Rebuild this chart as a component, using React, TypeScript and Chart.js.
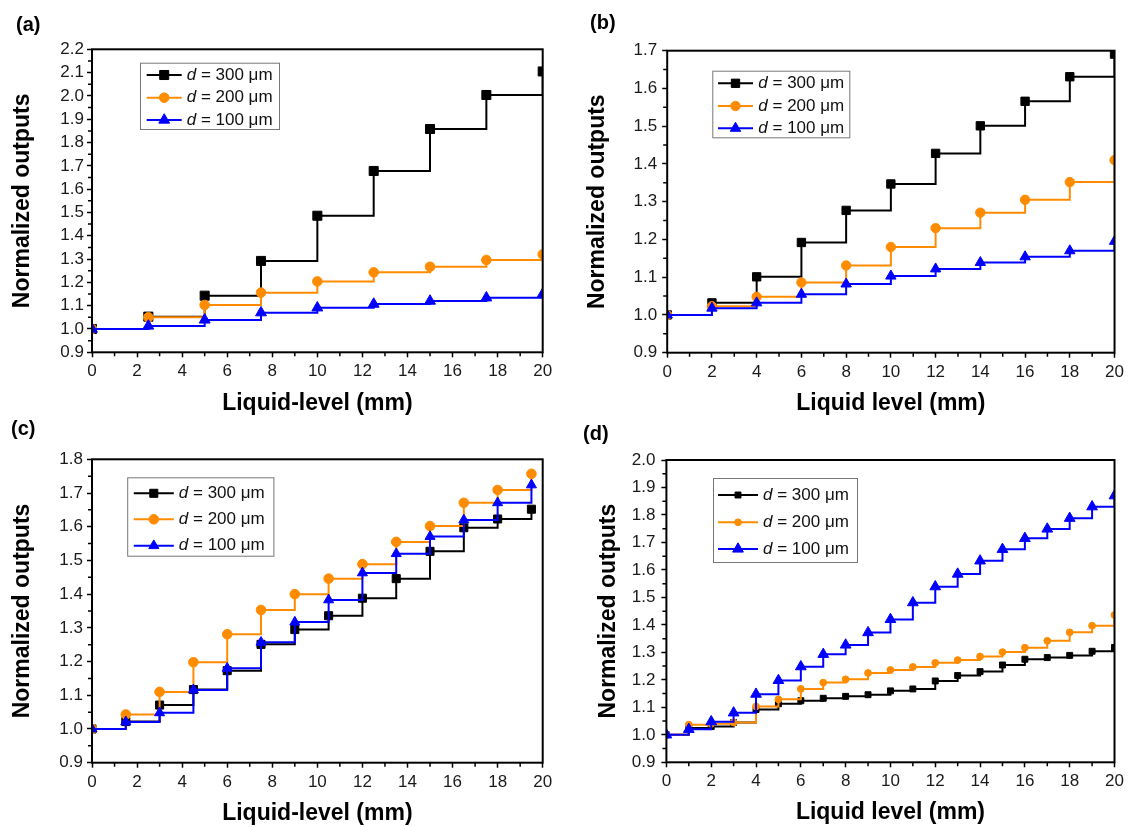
import React, { useEffect, useRef } from 'react';
import { Chart, registerables } from 'chart.js';

Chart.register(...registerables);

const FONT = '"Liberation Sans", Arial, Helvetica, sans-serif';
const C300 = '#000000';
const C200 = '#ff8c00';
const C100 = '#0000ff';
const legendSizes = ['300', '200', '100'];

// ---- Panel (a) ----
const xA = [0, 2.5, 5, 7.5, 10, 12.5, 15, 17.5, 20];
const a300 = [1.0, 1.053, 1.143, 1.292, 1.486, 1.678, 1.858, 2.004, 2.105];
const a200 = [1.0, 1.05, 1.103, 1.156, 1.204, 1.243, 1.267, 1.296, 1.32];
const a100 = [1.0, 1.013, 1.039, 1.07, 1.091, 1.107, 1.12, 1.134, 1.15];

// ---- Panel (b) ----
const xB = [0, 2, 4, 6, 8, 10, 12, 14, 16, 18, 20];
const b300 = [1.0, 1.032, 1.101, 1.192, 1.277, 1.347, 1.428, 1.501, 1.566, 1.631, 1.691];
const b200 = [1.0, 1.023, 1.048, 1.086, 1.131, 1.18, 1.23, 1.271, 1.305, 1.352, 1.41];
const b100 = [1.0, 1.018, 1.032, 1.055, 1.082, 1.103, 1.122, 1.139, 1.154, 1.17, 1.195];

// ---- Panel (c) ----
const xC = [0, 1.5, 3, 4.5, 6, 7.5, 9, 10.5, 12, 13.5, 15, 16.5, 18, 19.5];
const c300 = [1.0, 1.022, 1.071, 1.117, 1.173, 1.251, 1.295, 1.336, 1.388, 1.446, 1.527, 1.597, 1.623, 1.652];
const c200 = [1.0, 1.043, 1.11, 1.198, 1.281, 1.353, 1.4, 1.446, 1.489, 1.555, 1.602, 1.671, 1.709, 1.757];
const c100 = [1.0, 1.021, 1.048, 1.116, 1.18, 1.257, 1.317, 1.383, 1.463, 1.52, 1.571, 1.62, 1.671, 1.724];

// ---- Panel (d) ----
const xD = [0, 1, 2, 3, 4, 5, 6, 7, 8, 9, 10, 11, 12, 13, 14, 15, 16, 17, 18, 19, 20];
const d300 = [1.0, 1.025, 1.03, 1.045, 1.092, 1.113, 1.124, 1.133, 1.14, 1.146, 1.16, 1.167, 1.196, 1.216, 1.23, 1.254, 1.275, 1.281, 1.289, 1.304, 1.318];
const d200 = [1.0, 1.037, 1.04, 1.045, 1.103, 1.129, 1.167, 1.19, 1.202, 1.225, 1.236, 1.247, 1.262, 1.272, 1.285, 1.301, 1.317, 1.342, 1.373, 1.397, 1.436];
const d100 = [1.0, 1.02, 1.048, 1.08, 1.148, 1.198, 1.248, 1.293, 1.327, 1.372, 1.42, 1.481, 1.539, 1.585, 1.633, 1.675, 1.715, 1.749, 1.788, 1.83, 1.87];

type Cfg = {
  tag: string;
  xs: number[];
  ys: number[][];
  yMin: number;
  yMax: number;
  yPad: number;
  xTitle: string;
  canvas: { left: number; top: number; w: number; h: number };
  area: { l: number; t: number; r: number; b: number };
  yTitleX: number;
  xTitleY: number;
  tagPos: { x: number; y: number };
  legend: { l: number; t: number; r: number; b: number; rows: number[]; lineL: number; lineR: number; textX: number };
  radii: number[]; // square, circle, triangle
};

const panels: Cfg[] = [
  {
    tag: '(a)', xs: xA, ys: [a300, a200, a100], yMin: 0.9, yMax: 2.2, yPad: 3,
    xTitle: 'Liquid-level (mm)',
    canvas: { left: 0, top: 0, w: 564, h: 420 },
    area: { l: 92, t: 49.3, r: 542.7, b: 352.3 },
    yTitleX: 23, xTitleY: 403.5,
    tagPos: { x: 16, y: 25 },
    legend: { l: 140, t: 62.7, r: 279, b: 129, rows: [75, 97.7, 120], lineL: 146.7, lineR: 181.7, textX: 186.7 },
    radii: [6.4, 4.8, 6.3],
  },
  {
    tag: '(b)', xs: xB, ys: [b300, b200, b100], yMin: 0.9, yMax: 1.7, yPad: 5,
    xTitle: 'Liquid level (mm)',
    canvas: { left: 564, top: 0, w: 564, h: 420 },
    area: { l: 667.2, t: 50.7, r: 1115.6, b: 352.7 },
    yTitleX: 598, xTitleY: 404,
    tagPos: { x: 590, y: 23 },
    legend: { l: 712.3, t: 70.7, r: 849.3, b: 137.3, rows: [83.3, 106, 128.3], lineL: 718, lineR: 753, textX: 758.3 },
    radii: [5.9, 4.7, 6],
  },
  {
    tag: '(c)', xs: xC, ys: [c300, c200, c100], yMin: 0.9, yMax: 1.8, yPad: 4,
    xTitle: 'Liquid-level (mm)',
    canvas: { left: 0, top: 415, w: 564, h: 412 },
    area: { l: 92, t: 459.3, r: 542.7, b: 762.7 },
    yTitleX: 23, xTitleY: 813.5,
    tagPos: { x: 11, y: 429 },
    legend: { l: 127.2, t: 477.3, r: 273.4, b: 555.7, rows: [493.3, 519.3, 545.7], lineL: 133.8, lineR: 173.8, textX: 178.8 },
    radii: [5.7, 4.8, 5.8],
  },
  {
    tag: '(d)', xs: xD, ys: [d300, d200, d100], yMin: 0.9, yMax: 2.0, yPad: 6,
    xTitle: 'Liquid level (mm)',
    canvas: { left: 564, top: 415, w: 564, h: 412 },
    area: { l: 666.4, t: 460, r: 1114.5, b: 762.3 },
    yTitleX: 609, xTitleY: 813,
    tagPos: { x: 583, y: 434 },
    legend: { l: 713, t: 478, r: 857, b: 562, rows: [495, 522.3, 549], lineL: 718, lineR: 758, textX: 763 },
    radii: [4.2, 3.4, 6.2],
  },
];

const COLORS = [C300, C200, C100];
const STYLES = ['rect', 'circle', 'triangle'];

function drawMarker(ctx: CanvasRenderingContext2D, style: string, x: number, y: number, r: number, color: string) {
  ctx.fillStyle = color;
  ctx.strokeStyle = color;
  ctx.lineWidth = 1;
  ctx.beginPath();
  if (style === 'rect') {
    const s = Math.SQRT1_2 * r;
    ctx.rect(x - s, y - s, 2 * s, 2 * s);
  } else if (style === 'circle') {
    ctx.arc(x, y, r, 0, Math.PI * 2);
  } else {
    ctx.moveTo(x, y - r);
    ctx.lineTo(x + 0.866 * r, y + 0.5 * r);
    ctx.lineTo(x - 0.866 * r, y + 0.5 * r);
    ctx.closePath();
  }
  ctx.fill();
  ctx.stroke();
}

function makeDecor(p: Cfg) {
  const ox = p.canvas.left;
  const oy = p.canvas.top;
  return {
    id: 'decor_' + p.tag,
    afterDatasetsDraw(chart: any) {
      const { ctx, chartArea: a, scales } = chart;
      ctx.save();
      // frame
      ctx.strokeStyle = '#000';
      ctx.lineWidth = 2;
      ctx.strokeRect(a.left, a.top, a.right - a.left, a.bottom - a.top);
      // minor ticks between majors
      ctx.lineWidth = 1.5;
      ctx.beginPath();
      const xs = scales.x;
      for (let i = 0; i < xs.ticks.length - 1; i++) {
        const px = xs.getPixelForValue((xs.ticks[i].value + xs.ticks[i + 1].value) / 2);
        ctx.moveTo(px, a.bottom);
        ctx.lineTo(px, a.bottom + 4);
      }
      const ys = scales.y;
      for (let i = 0; i < ys.ticks.length - 1; i++) {
        const py = ys.getPixelForValue((ys.ticks[i].value + ys.ticks[i + 1].value) / 2);
        ctx.moveTo(a.left, py);
        ctx.lineTo(a.left - 4, py);
      }
      ctx.stroke();

      // legend box
      const L = p.legend;
      ctx.fillStyle = '#ffffff';
      ctx.fillRect(L.l - ox, L.t - oy, L.r - L.l, L.b - L.t);
      ctx.strokeStyle = '#777';
      ctx.lineWidth = 1;
      ctx.strokeRect(L.l - ox + 0.5, L.t - oy + 0.5, L.r - L.l, L.b - L.t);
      for (let k = 0; k < 3; k++) {
        const y = L.rows[k] - oy;
        ctx.strokeStyle = COLORS[k];
        ctx.lineWidth = 2;
        ctx.beginPath();
        ctx.moveTo(L.lineL - ox, y);
        ctx.lineTo(L.lineR - ox, y);
        ctx.stroke();
        drawMarker(ctx, STYLES[k], (L.lineL + L.lineR) / 2 - ox, y, p.radii[k], COLORS[k]);
        ctx.fillStyle = '#111';
        ctx.textBaseline = 'middle';
        ctx.textAlign = 'left';
        ctx.font = `italic 17px ${FONT}`;
        const tx = L.textX - ox;
        ctx.fillText('d', tx, y);
        const w = ctx.measureText('d').width;
        ctx.font = `17px ${FONT}`;
        ctx.fillText(` = ${legendSizes[k]} μm`, tx + w, y);
      }

      // panel tag
      ctx.fillStyle = '#000';
      ctx.font = `bold 20px ${FONT}`;
      ctx.textBaseline = 'middle';
      ctx.textAlign = 'left';
      ctx.fillText(p.tag, p.tagPos.x - ox, p.tagPos.y - oy);
      ctx.restore();
    },
  };
}

function buildConfig(p: Cfg): any {
  const cl = p.canvas.left;
  const ct = p.canvas.top;
  const TITLE_SIZE = 23;
  const lh = TITLE_SIZE * 1.2;
  const yWidth = p.area.l - cl;
  const xHeight = ct + p.canvas.h - p.area.b;
  const yTitlePad = Math.max(0, p.yTitleX - cl - lh / 2);
  const xTitlePad = Math.max(0, ct + p.canvas.h - p.xTitleY - lh / 2);

  const datasets = p.ys.map((vals, k) => ({
    label: `d = ${legendSizes[k]} μm`,
    data: p.xs.map((x, i) => ({ x, y: vals[i] })),
    borderColor: COLORS[k],
    backgroundColor: COLORS[k],
    borderWidth: 2,
    stepped: 'before',
    pointStyle: STYLES[k],
    pointRadius: p.radii[k],
    pointBackgroundColor: COLORS[k],
    pointBorderColor: COLORS[k],
    pointBorderWidth: 1,
    fill: false,
    order: 3 - k,
  }));

  return {
    type: 'line',
    data: { datasets },
    options: {
      responsive: false,
      animation: false,
      devicePixelRatio: 1,
      layout: {
        padding: { left: 0, top: p.area.t - ct, right: p.canvas.w - (p.area.r - cl), bottom: 0 },
      },
      plugins: {
        legend: { display: false },
        tooltip: { enabled: false },
      },
      scales: {
        x: {
          type: 'linear',
          min: 0,
          max: 20,
          ticks: {
            stepSize: 2,
            autoSkip: false,
            maxRotation: 0,
            padding: 4,
            color: '#1a1a1a',
            font: { family: FONT, size: 17 },
            callback: (v: any) => String(v),
          },
          grid: { display: true, drawOnChartArea: false, drawTicks: true, tickLength: 5, tickColor: '#000', tickWidth: 1.5 },
          border: { display: false },
          title: {
            display: true,
            text: p.xTitle,
            color: '#000',
            font: { family: FONT, size: TITLE_SIZE, weight: 'bold' },
            padding: { top: 0, bottom: xTitlePad },
          },
          afterFit: (s: any) => { s.height = xHeight; },
        },
        y: {
          type: 'linear',
          min: p.yMin,
          max: p.yMax,
          ticks: {
            stepSize: 0.1,
            autoSkip: false,
            padding: p.yPad,
            color: '#1a1a1a',
            font: { family: FONT, size: 17 },
            callback: (v: any) => Number(v).toFixed(1),
          },
          grid: { display: true, drawOnChartArea: false, drawTicks: true, tickLength: 5, tickColor: '#000', tickWidth: 1.5 },
          border: { display: false },
          title: {
            display: true,
            text: 'Normalized outputs',
            color: '#000',
            font: { family: FONT, size: TITLE_SIZE, weight: 'bold' },
            padding: { top: yTitlePad, bottom: 0 },
          },
          afterFit: (s: any) => { s.width = yWidth; },
        },
      },
    },
    plugins: [makeDecor(p)],
  };
}

function Panel({ cfg }: { cfg: Cfg }) {
  const ref = useRef<HTMLCanvasElement>(null);
  useEffect(() => {
    const chart = new Chart(ref.current as HTMLCanvasElement, buildConfig(cfg));
    return () => chart.destroy();
  }, [cfg]);
  return (
    <canvas
      ref={ref}
      width={cfg.canvas.w}
      height={cfg.canvas.h}
      style={{
        position: 'absolute',
        left: cfg.canvas.left,
        top: cfg.canvas.top,
        width: cfg.canvas.w,
        height: cfg.canvas.h,
        display: 'block',
      }}
    />
  );
}

export default function App() {
  return (
    <div
      style={{
        position: 'absolute',
        left: 0,
        top: 0,
        width: 1128,
        height: 827,
        background: '#ffffff',
        overflow: 'hidden',
      }}
    >
      {panels.map((p) => (
        <Panel key={p.tag} cfg={p} />
      ))}
    </div>
  );
}
